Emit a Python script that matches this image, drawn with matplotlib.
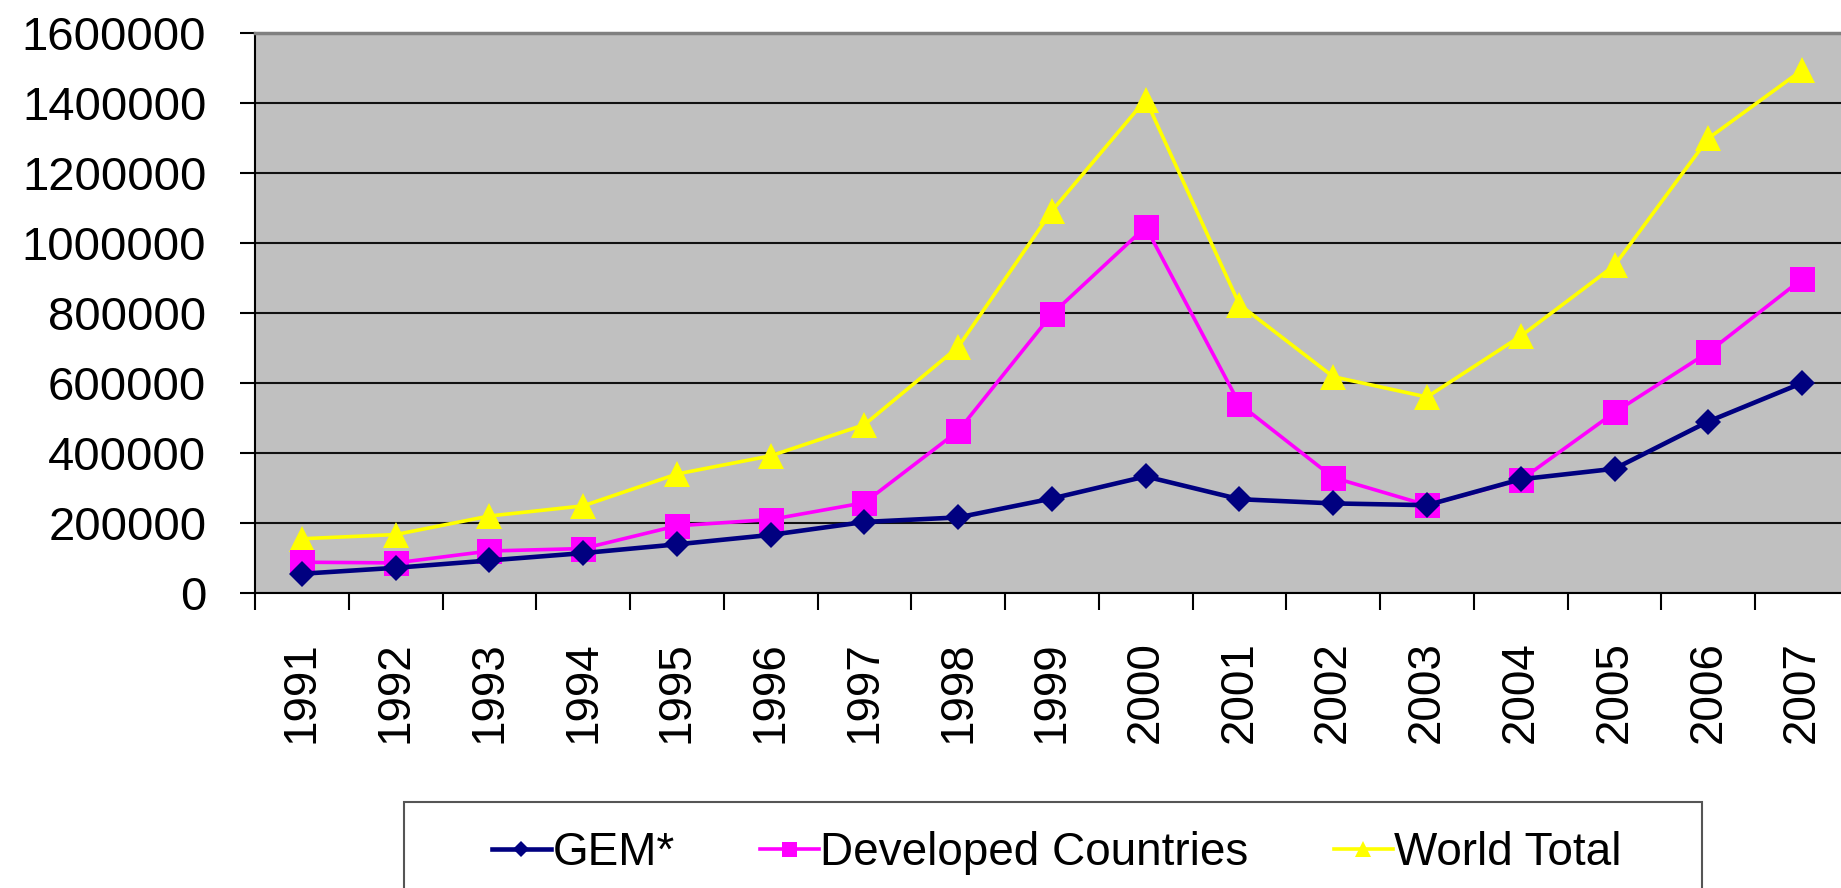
import matplotlib
matplotlib.use("Agg")
import matplotlib.pyplot as plt
from matplotlib.patches import Rectangle

plt.rcParams['font.family'] = ['Liberation Sans', 'DejaVu Sans']

# data
years = ['1991', '1992', '1993', '1994', '1995', '1996', '1997', '1998', '1999',
         '2000', '2001', '2002', '2003', '2004', '2005', '2006', '2007']
gem = [55000, 72000, 93000, 114000, 139000, 166000, 203000, 216000, 270000,
       333000, 268000, 256000, 251000, 325000, 355000, 490000, 600000]
developed = [88000, 86000, 120000, 127000, 192000, 210000, 258000, 463000, 797000,
             1046000, 540000, 330000, 251000, 323000, 516000, 688000, 897000]
world = [155000, 167000, 220000, 249000, 340000, 392000, 481000, 703000, 1092000,
         1410000, 824000, 618000, 560000, 734000, 936000, 1299000, 1494000]
series_names = ['GEM*', 'Developed Countries', 'World Total']

fig = plt.figure(figsize=(18.41, 8.88), dpi=100)
ax = fig.add_axes([0.1385, 0.3322, 0.8658, 0.6306])
ax.set_facecolor('#C0C0C0')

x = list(range(len(years)))
ax.plot(x, gem, color='#000080', lw=3.3, marker='D', ms=13, mew=0, label=series_names[0], zorder=5)
ax.plot(x, developed, color='#FF00FF', lw=2.6, marker='s', ms=18, mew=0, label=series_names[1], zorder=4)
ax.plot(x, world, color='#FFFF00', lw=2.6, marker='^', ms=19, mew=0, label=series_names[2], zorder=3)

ax.set_xlim(-0.5, len(years) - 0.5)
ax.set_ylim(0, 1600000)
ax.set_yticks(range(0, 1600001, 200000))
ax.set_yticklabels([str(v) for v in range(0, 1600001, 200000)], fontsize=34)
ax.tick_params(axis='y', direction='out', length=11, width=1.5, pad=24)
ax.yaxis.grid(True, color='#111111', lw=1.5)
ax.set_axisbelow(True)

# ticks on category boundaries, labels at centres
ax.set_xticks([i + 0.5 for i in x[:-1]] + [-0.5])
ax.set_xticklabels([])
ax.tick_params(axis='x', which='major', direction='out', length=12, width=1.5)
ax.set_xticks(x, minor=True)
ax.set_xticklabels(years, minor=True, rotation=90, fontsize=33)
ax.tick_params(axis='x', which='minor', length=0, pad=35)

for side in ['left', 'bottom']:
    ax.spines[side].set_color('black')
    ax.spines[side].set_linewidth(1.5)
ax.spines['top'].set_color('#808080')
ax.spines['top'].set_linewidth(2.5)
ax.spines['right'].set_visible(False)

# legend frame drawn by hand, it runs off the bottom of the picture
fig.patches.append(Rectangle((404 / 1841, -0.05), (1702 - 404) / 1841, 0.05 + (888 - 802) / 888,
                             transform=fig.transFigure, fill=False, edgecolor='#555555', lw=1.5))
fig.legend(loc='center', bbox_to_anchor=(0.574, 0.0394), ncol=3, frameon=False,
           fontsize=33, handlelength=1.3, handletextpad=0.03, columnspacing=1.85,
           markerscale=0.6)

fig.savefig('out.png', dpi=100)
